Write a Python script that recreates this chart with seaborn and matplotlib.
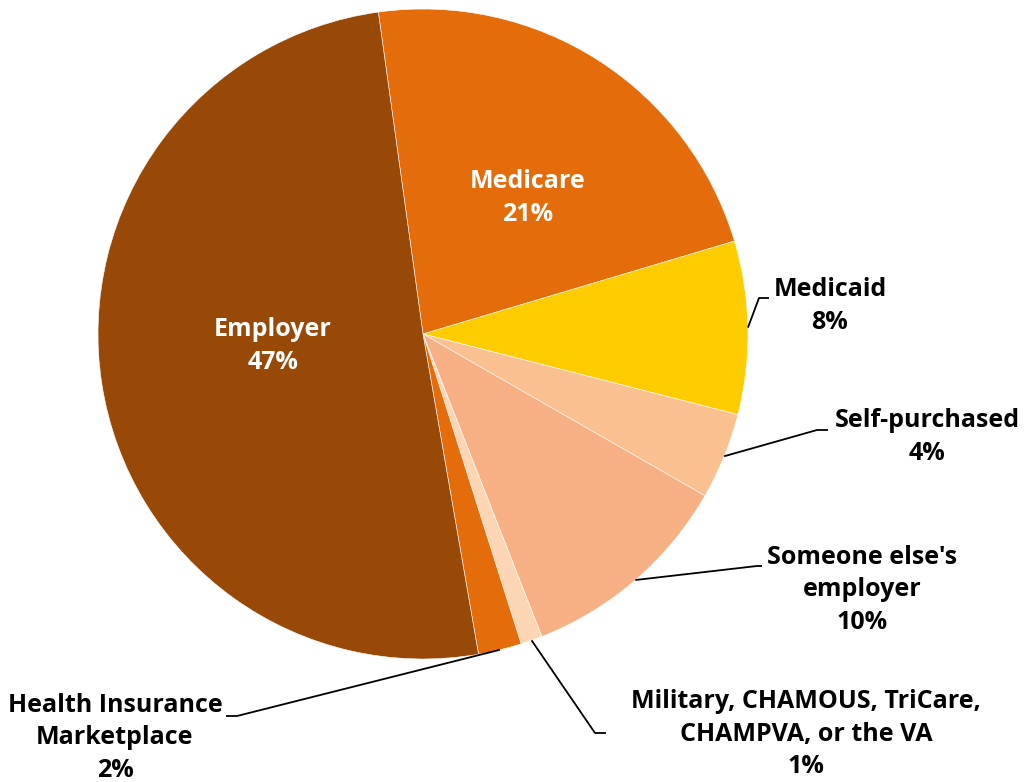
import numpy as np
import seaborn as sns
import matplotlib.pyplot as plt

# Health insurance coverage source (values as shown on the chart)
labels = ["Medicare", "Medicaid", "Self-purchased", "Someone else's\nemployer",
          "Military, CHAMOUS, TriCare,\nCHAMPVA, or the VA",
          "Health Insurance\nMarketplace", "Employer"]
values = [21, 8, 4, 10, 1, 2, 47]
pct_labels = ["21%", "8%", "4%", "10%", "1%", "2%", "47%"]
colors = ["#E46C0A", "#FFCC00", "#FAC090", "#F7B083", "#FCD5B5", "#E46C0A", "#984807"]

sns.set_theme(style="white")
plt.rcParams['font.family'] = ['Open Sans', 'DejaVu Sans']

fig = plt.figure(figsize=(10.24, 7.82), dpi=100)
ax = fig.add_axes([0, 0, 1, 1])

# pie in pixel-like coordinates
cx, cy, r = 423, 782 - 334, 325
wedges, _ = ax.pie(values, colors=colors, startangle=97.9, counterclock=False,
                   center=(cx, cy), radius=r, frame=True,
                   wedgeprops=dict(edgecolor='#FFFFFF', linewidth=0.4))
ax.set_xlim(0, 1024)
ax.set_ylim(0, 782)
ax.set_aspect('equal')
ax.axis('off')

txt = dict(fontsize=18, fontweight='bold', ha='center', va='center', linespacing=1.4)

# inside labels
ax.text(528, 782 - 198, labels[0] + "\n" + pct_labels[0], color='white', **txt)
ax.text(273, 782 - 346, labels[6] + "\n" + pct_labels[6], color='white', **txt)

# outside labels: (text pos, elbow, line end)
outside = {
    1: ((830, 306), (759, 298), (769, 298)),
    2: ((927, 437), (817, 430), (828, 430)),
    3: ((862, 590), (757, 566), (762, 566)),
    4: ((806, 734), (595, 733), (606, 733)),
    5: ((115, 738), (237, 716), (226, 716)),
}
for i, (tpos, elbow, end) in outside.items():
    w = wedges[i]
    mid = np.deg2rad((w.theta1 + w.theta2) / 2)
    px, py = cx + r * np.cos(mid), cy + r * np.sin(mid)
    ax.plot([px, elbow[0], end[0]], [py, 782 - elbow[1], 782 - end[1]],
            color='black', linewidth=1.3, solid_capstyle='butt')
    ax.text(tpos[0], 782 - tpos[1], labels[i] + "\n" + pct_labels[i], color='black', **txt)

fig.savefig("out.png", dpi=100)
